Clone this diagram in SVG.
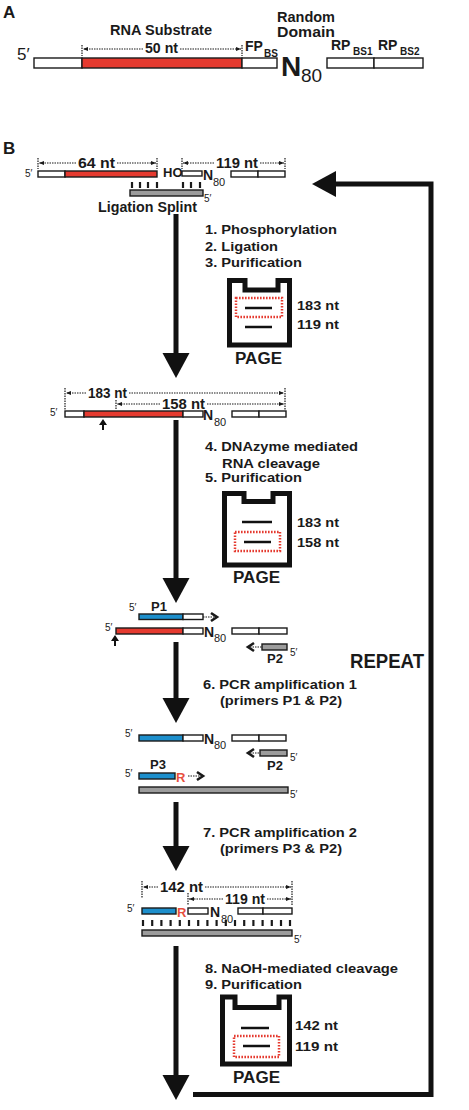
<svg xmlns="http://www.w3.org/2000/svg" width="469" height="1110" viewBox="0 0 469 1110">
<style>
.t{font-family:"Liberation Sans",Arial,sans-serif;font-weight:bold;fill:#1a1a1a}
.n{font-family:"Liberation Sans",Arial,sans-serif;font-weight:normal;fill:#1a1a1a}
.w{fill:#fff;stroke:#1a1a1a;stroke-width:1.4}
.r{fill:#e53a2f;stroke:#1a1a1a;stroke-width:1.4}
.b{fill:#1d8fcc;stroke:#1a1a1a;stroke-width:1.4}
.g{fill:#9c9c9c;stroke:#1a1a1a;stroke-width:1.4}
.gel{fill:none;stroke:#111;stroke-width:5;stroke-linejoin:miter}
.rb{fill:none;stroke:#e53a2f;stroke-width:2.5;stroke-dasharray:1.6 1.4}
.band{stroke:#111;stroke-width:2.5}
.dim{stroke:#1a1a1a;stroke-width:1.2;stroke-dasharray:1.5 1;fill:none}
.tick{stroke:#1a1a1a;stroke-width:1.2;stroke-dasharray:1.5 1}
.main{stroke:#111;stroke-width:5;fill:none}
.chev{fill:none;stroke:#1a1a1a;stroke-width:2.6}
.st{stroke:#1a1a1a;stroke-width:2.2}
.red{fill:#e8503f}
</style>
<defs>
<marker id="ah" viewBox="0 0 10 10" refX="10" refY="5" markerWidth="5" markerHeight="5" orient="auto-start-reverse" markerUnits="userSpaceOnUse"><path d="M0,1 L10,5 L0,9 Z" fill="#1a1a1a"/></marker>
<path id="dh" d="M-13.5,0 L13.5,0 L0,25 Z" fill="#111"/>
<path id="up" d="M-4,6 L4,6 L0,0 Z M-1,6 L1,6 L1,11 L-1,11 Z" fill="#111"/>
</defs>

<!-- Panel A -->
<g id="panelA">
<text class="t" x="3" y="18" font-size="17">A</text>
<text class="t" x="110" y="35" font-size="14" textLength="102" lengthAdjust="spacingAndGlyphs">RNA Substrate</text>
<text class="n" x="17" y="60" font-size="17">5′</text>
<rect class="w" x="34" y="58" width="48" height="10"/>
<rect class="r" x="82" y="58" width="160" height="10"/>
<rect class="w" x="242" y="58" width="35" height="10"/>
<line class="tick" x1="82" y1="45" x2="82" y2="56"/>
<line class="tick" x1="242" y1="45" x2="242" y2="56"/>
<line class="dim" x1="143" y1="49" x2="83" y2="49" marker-end="url(#ah)"/>
<line class="dim" x1="180" y1="49" x2="241" y2="49" marker-end="url(#ah)"/>
<text class="t" x="145" y="53" font-size="14" textLength="33" lengthAdjust="spacingAndGlyphs">50 nt</text>
<text class="t" x="245" y="51" font-size="14">FP</text>
<text class="t" x="264" y="57" font-size="10">BS</text>
<text class="t" x="277" y="22" font-size="14" textLength="58" lengthAdjust="spacingAndGlyphs">Random</text>
<text class="t" x="277" y="37" font-size="14" textLength="58" lengthAdjust="spacingAndGlyphs">Domain</text>
<text class="t" x="281" y="76" font-size="28">N</text>
<text class="n" x="301" y="82" font-size="19">80</text>
<rect class="w" x="327" y="58" width="47" height="10"/>
<rect class="w" x="374" y="58" width="49" height="10"/>
<text class="t" x="331" y="50" font-size="14">RP</text>
<text class="t" x="353" y="55" font-size="10">BS1</text>
<text class="t" x="378" y="50" font-size="14">RP</text>
<text class="t" x="400" y="55" font-size="10">BS2</text>
</g>

<text class="t" x="3" y="154" font-size="17">B</text>

<!-- Strand 1 -->
<g id="strand1">
<text class="n" x="25" y="177" font-size="10">5′</text>
<rect class="w" x="38" y="171" width="27" height="6"/>
<rect class="r" x="65" y="171" width="92" height="6"/>
<line class="tick" x1="38" y1="158" x2="38" y2="169"/>
<line class="tick" x1="157" y1="158" x2="157" y2="169"/>
<line class="dim" x1="76" y1="163" x2="39" y2="163" marker-end="url(#ah)"/>
<line class="dim" x1="117" y1="163" x2="156" y2="163" marker-end="url(#ah)"/>
<text class="t" x="78" y="168" font-size="14" textLength="37" lengthAdjust="spacingAndGlyphs">64 nt</text>
<text class="t" x="163" y="177" font-size="13">HO</text>
<rect class="w" x="182" y="171" width="20" height="5"/>
<text class="t" x="203" y="180" font-size="14">N</text>
<text class="n" x="213" y="186" font-size="11">80</text>
<rect class="w" x="231" y="171" width="27" height="6"/>
<rect class="w" x="258" y="171" width="27" height="6"/>
<line class="tick" x1="182" y1="158" x2="182" y2="169"/>
<line class="tick" x1="285" y1="158" x2="285" y2="169"/>
<line class="dim" x1="214" y1="163" x2="183" y2="163" marker-end="url(#ah)"/>
<line class="dim" x1="260" y1="163" x2="284" y2="163" marker-end="url(#ah)"/>
<text class="t" x="216" y="168" font-size="14" textLength="42" lengthAdjust="spacingAndGlyphs">119 nt</text>
<g class="st">
<line x1="132" y1="182" x2="132" y2="188"/><line x1="140" y1="182" x2="140" y2="188"/>
<line x1="148" y1="182" x2="148" y2="188"/><line x1="157" y1="182" x2="157" y2="188"/>
<line x1="183" y1="182" x2="183" y2="188"/><line x1="191" y1="182" x2="191" y2="188"/>
<line x1="200" y1="182" x2="200" y2="188"/>
</g>
<rect class="g" x="130" y="190" width="73" height="6"/>
<text class="n" x="204" y="202" font-size="10">5′</text>
<text class="t" x="98" y="212" font-size="14" textLength="99" lengthAdjust="spacingAndGlyphs">Ligation Splint</text>
</g>

<!-- Steps 1-3 and gel 1 -->
<g id="step1">
<text class="t" x="205" y="234" font-size="13" textLength="132" lengthAdjust="spacingAndGlyphs">1. Phosphorylation</text>
<text class="t" x="205" y="251" font-size="13" textLength="73" lengthAdjust="spacingAndGlyphs">2. Ligation</text>
<text class="t" x="205" y="267" font-size="13" textLength="97" lengthAdjust="spacingAndGlyphs">3. Purification</text>
</g>
<g id="gel1">
<path class="gel" d="M229.5,345 L229.5,280.5 L245,280.5 L245,290 L278,290 L278,280.5 L289.5,280.5 L289.5,345 Z"/>
<rect class="rb" x="236" y="298" width="46" height="19"/>
<line class="band" x1="245" y1="308" x2="272" y2="308"/>
<line class="band" x1="245" y1="327" x2="272" y2="327"/>
<text class="t" x="297" y="310" font-size="13" textLength="42" lengthAdjust="spacingAndGlyphs">183 nt</text>
<text class="t" x="297" y="329" font-size="13" textLength="42" lengthAdjust="spacingAndGlyphs">119 nt</text>
<text class="t" x="235" y="364" font-size="16" textLength="47" lengthAdjust="spacingAndGlyphs">PAGE</text>
</g>

<!-- Strand 2 -->
<g id="strand2">
<line class="tick" x1="65" y1="388" x2="65" y2="410"/>
<line class="tick" x1="285" y1="388" x2="285" y2="410"/>
<line class="tick" x1="116" y1="400" x2="116" y2="410"/>
<line class="dim" x1="86" y1="393" x2="66" y2="393" marker-end="url(#ah)"/>
<line class="dim" x1="129" y1="393" x2="284" y2="393" marker-end="url(#ah)"/>
<text class="t" x="88" y="398" font-size="14" textLength="39" lengthAdjust="spacingAndGlyphs">183 nt</text>
<line class="dim" x1="160" y1="404" x2="117" y2="404" marker-end="url(#ah)"/>
<line class="dim" x1="207" y1="404" x2="284" y2="404" marker-end="url(#ah)"/>
<text class="t" x="162" y="409" font-size="14" textLength="43" lengthAdjust="spacingAndGlyphs">158 nt</text>
<text class="n" x="50" y="416" font-size="10">5′</text>
<rect class="w" x="65" y="411" width="19" height="6"/>
<rect class="r" x="84" y="411" width="99" height="6"/>
<rect class="w" x="183" y="411" width="20" height="6"/>
<text class="t" x="203" y="420" font-size="14">N</text>
<text class="n" x="214" y="426" font-size="11">80</text>
<rect class="w" x="232" y="411" width="27" height="6"/>
<rect class="w" x="259" y="411" width="27" height="6"/>
<use href="#up" x="103" y="419"/>
</g>

<g id="step4">
<text class="t" x="205" y="451" font-size="13" textLength="153" lengthAdjust="spacingAndGlyphs">4. DNAzyme mediated</text>
<text class="t" x="222" y="468" font-size="13" textLength="98" lengthAdjust="spacingAndGlyphs">RNA cleavage</text>
<text class="t" x="205" y="482" font-size="13" textLength="97" lengthAdjust="spacingAndGlyphs">5. Purification</text>
</g>
<g id="gel2">
<path class="gel" d="M224.5,565 L224.5,493.5 L244,493.5 L244,501.5 L273,501.5 L273,493.5 L289.5,493.5 L289.5,565 Z"/>
<line class="band" x1="242" y1="522" x2="272" y2="522"/>
<rect class="rb" x="235" y="532" width="45" height="19"/>
<line class="band" x1="244" y1="542" x2="271" y2="542"/>
<text class="t" x="297" y="527" font-size="13" textLength="42" lengthAdjust="spacingAndGlyphs">183 nt</text>
<text class="t" x="297" y="547" font-size="13" textLength="42" lengthAdjust="spacingAndGlyphs">158 nt</text>
<text class="t" x="233" y="583" font-size="16" textLength="47" lengthAdjust="spacingAndGlyphs">PAGE</text>
</g>

<!-- Strand 3 -->
<g id="strand3">
<text class="n" x="129" y="611" font-size="10">5′</text>
<text class="t" x="151" y="611" font-size="13">P1</text>
<rect class="b" x="139" y="614" width="44" height="5.5"/>
<rect class="w" x="183" y="614" width="20" height="5.5"/>
<line class="dim" x1="203" y1="617" x2="214" y2="617"/>
<path class="chev" d="M211,613 L217,617 L211,621"/>
<text class="n" x="105" y="631" font-size="10">5′</text>
<rect class="r" x="116" y="628" width="67" height="6"/>
<rect class="w" x="183" y="628" width="20" height="6"/>
<text class="t" x="204" y="637" font-size="14">N</text>
<text class="n" x="214" y="642" font-size="11">80</text>
<rect class="w" x="232" y="628" width="27" height="6"/>
<rect class="w" x="259" y="628" width="28" height="6"/>
<use href="#up" x="115" y="635"/>
<line class="dim" x1="250" y1="647" x2="262" y2="647"/>
<path class="chev" d="M254,643 L248,647 L254,651"/>
<rect class="g" x="262" y="644" width="25" height="6"/>
<text class="t" x="267" y="663" font-size="13">P2</text>
<text class="n" x="290" y="656" font-size="10">5′</text>
</g>

<g id="step6">
<text class="t" x="203" y="689" font-size="13" textLength="154" lengthAdjust="spacingAndGlyphs">6. PCR amplification 1</text>
<text class="t" x="220" y="705" font-size="13" textLength="122" lengthAdjust="spacingAndGlyphs">(primers P1 &amp; P2)</text>
</g>

<!-- Strand 4 -->
<g id="strand4">
<text class="n" x="125" y="737" font-size="10">5′</text>
<rect class="b" x="139" y="735" width="44" height="6"/>
<rect class="w" x="183" y="735" width="20" height="6"/>
<text class="t" x="204" y="744" font-size="14">N</text>
<text class="n" x="214" y="749" font-size="11">80</text>
<rect class="w" x="232" y="735" width="27" height="6"/>
<rect class="w" x="259" y="735" width="27" height="6"/>
<line class="dim" x1="250" y1="753" x2="260" y2="753"/>
<path class="chev" d="M254,749 L248,753 L254,757"/>
<rect class="g" x="260" y="750" width="27" height="6"/>
<text class="t" x="267" y="770" font-size="13">P2</text>
<text class="n" x="290" y="761" font-size="10">5′</text>
<text class="n" x="125" y="777" font-size="10">5′</text>
<text class="t" x="150" y="769" font-size="13">P3</text>
<rect class="b" x="139" y="773" width="36" height="6"/>
<text class="t red" x="176" y="782" font-size="13">R</text>
<line class="dim" x1="188" y1="776" x2="200" y2="776"/>
<path class="chev" d="M197,772 L203,776 L197,780"/>
<rect class="g" x="139" y="787" width="149" height="6"/>
<text class="n" x="290" y="798" font-size="10">5′</text>
</g>

<g id="step7">
<text class="t" x="203" y="837" font-size="13" textLength="154" lengthAdjust="spacingAndGlyphs">7. PCR amplification 2</text>
<text class="t" x="220" y="853" font-size="13" textLength="122" lengthAdjust="spacingAndGlyphs">(primers P3 &amp; P2)</text>
</g>

<!-- Strand 5 -->
<g id="strand5">
<line class="tick" x1="142" y1="881" x2="142" y2="898"/>
<line class="tick" x1="292" y1="881" x2="292" y2="906"/>
<line class="tick" x1="188" y1="893" x2="188" y2="905"/>
<line class="dim" x1="158" y1="887" x2="143" y2="887" marker-end="url(#ah)"/>
<line class="dim" x1="205" y1="887" x2="291" y2="887" marker-end="url(#ah)"/>
<text class="t" x="160" y="892" font-size="14" textLength="43" lengthAdjust="spacingAndGlyphs">142 nt</text>
<line class="dim" x1="223" y1="899" x2="189" y2="899" marker-end="url(#ah)"/>
<line class="dim" x1="267" y1="899" x2="291" y2="899" marker-end="url(#ah)"/>
<text class="t" x="225" y="904" font-size="14" textLength="40" lengthAdjust="spacingAndGlyphs">119 nt</text>
<text class="n" x="127" y="912" font-size="10">5′</text>
<rect class="b" x="142" y="908" width="34" height="6"/>
<text class="t red" x="177" y="917" font-size="13">R</text>
<rect class="w" x="188" y="908" width="20" height="6"/>
<text class="t" x="210" y="917" font-size="14">N</text>
<text class="n" x="221" y="923" font-size="11">80</text>
<rect class="w" x="238" y="908" width="25" height="6"/>
<rect class="w" x="263" y="908" width="29" height="6"/>
<g class="st">
<line x1="143" y1="920" x2="143" y2="926"/><line x1="152.2" y1="920" x2="152.2" y2="926"/>
<line x1="161.4" y1="920" x2="161.4" y2="926"/><line x1="170.6" y1="920" x2="170.6" y2="926"/>
<line x1="179.8" y1="920" x2="179.8" y2="926"/><line x1="189" y1="920" x2="189" y2="926"/>
<line x1="198.2" y1="920" x2="198.2" y2="926"/><line x1="207.4" y1="920" x2="207.4" y2="926"/>
<line x1="216.6" y1="920" x2="216.6" y2="926"/><line x1="225.8" y1="920" x2="225.8" y2="926"/>
<line x1="235" y1="920" x2="235" y2="926"/><line x1="244.2" y1="920" x2="244.2" y2="926"/>
<line x1="253.4" y1="920" x2="253.4" y2="926"/><line x1="262.6" y1="920" x2="262.6" y2="926"/>
<line x1="271.8" y1="920" x2="271.8" y2="926"/><line x1="281" y1="920" x2="281" y2="926"/>
<line x1="290" y1="920" x2="290" y2="926"/>
</g>
<rect class="g" x="142" y="930" width="150" height="6"/>
<text class="n" x="294" y="943" font-size="10">5′</text>
</g>

<g id="step8">
<text class="t" x="205" y="973" font-size="13" textLength="193" lengthAdjust="spacingAndGlyphs">8. NaOH-mediated cleavage</text>
<text class="t" x="205" y="989" font-size="13" textLength="97" lengthAdjust="spacingAndGlyphs">9. Purification</text>
</g>
<g id="gel3">
<path class="gel" d="M222.5,1064 L222.5,997 L235,997 L235,1007.5 L279,1007.5 L279,997 L289.5,997 L289.5,1064 Z"/>
<line class="band" x1="241" y1="1028" x2="269" y2="1028"/>
<rect class="rb" x="234" y="1036" width="45" height="21"/>
<line class="band" x1="243" y1="1046" x2="270" y2="1046"/>
<text class="t" x="295" y="1030" font-size="13" textLength="43" lengthAdjust="spacingAndGlyphs">142 nt</text>
<text class="t" x="295" y="1051" font-size="13" textLength="43" lengthAdjust="spacingAndGlyphs">119 nt</text>
<text class="t" x="233" y="1083" font-size="16" textLength="47" lengthAdjust="spacingAndGlyphs">PAGE</text>
</g>

<!-- Connectors -->
<g id="connectors">
<line class="main" x1="176" y1="214" x2="176" y2="355"/>
<use href="#dh" x="176" y="353"/>
<line class="main" x1="176" y1="420" x2="176" y2="580"/>
<use href="#dh" x="176" y="578"/>
<line class="main" x1="176" y1="642" x2="176" y2="700"/>
<use href="#dh" x="176" y="698"/>
<line class="main" x1="176" y1="802" x2="176" y2="848"/>
<use href="#dh" x="176" y="846"/>
<line class="main" x1="176" y1="946" x2="176" y2="1077"/>
<use href="#dh" x="176" y="1075"/>
<polyline class="main" points="193,1094.5 431,1094.5 431,184 333,184"/>
<path d="M312,184 L336,171 L336,197 Z" fill="#111"/>
</g>
<text class="t" x="350" y="668" font-size="20" textLength="74" lengthAdjust="spacingAndGlyphs">REPEAT</text>
</svg>
